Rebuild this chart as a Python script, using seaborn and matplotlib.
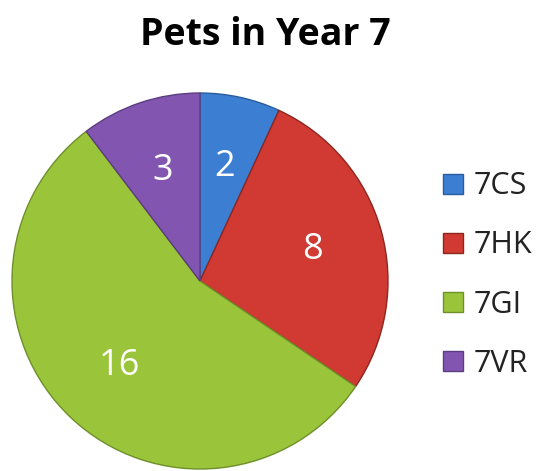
import matplotlib
matplotlib.use("Agg")
import matplotlib.pyplot as plt
import seaborn as sns

categories = ["7CS", "7HK", "7GI", "7VR"]
values = [2, 8, 16, 3]
colors = ["#3C7ED2", "#D03A32", "#9AC53B", "#8256B0"]
edge_colors = ["#2A5C9E", "#8E2620", "#6E8F2A", "#5C3D80"]

sns.set_theme(style="white")
plt.rcParams["font.family"] = ["Open Sans", "DejaVu Sans"]

W, H = 539, 471
fig = plt.figure(figsize=(W / 100, H / 100), dpi=100)
cx, cy, r = 200, 281, 188
ax = fig.add_axes([(cx - r) / W, (H - cy - r) / H, 2 * r / W, 2 * r / H])

total = sum(values)
wedges, texts, autotexts = ax.pie(
    values, colors=colors, startangle=90, counterclock=False,
    autopct=lambda p: f"{round(p * total / 100):d}", pctdistance=0.62,
    wedgeprops=dict(linewidth=1.0),
    textprops=dict(color="white", fontsize=26),
)
for w, ec in zip(wedges, edge_colors):
    w.set_edgecolor(ec)
ax.set_xlim(-1, 1)
ax.set_ylim(-1, 1)
ax.set_aspect("auto")
ax.axis("off")

fig.text(265 / W, 1 - 45 / H, "Pets in Year 7", ha="center", va="baseline",
         fontsize=27, fontweight="bold", color="black")

leg = fig.legend(wedges, categories, loc="center left",
                 bbox_to_anchor=(443 / W, 1 - 275 / H), frameon=False,
                 fontsize=22, handlelength=0.65, handleheight=0.65,
                 handletextpad=0.35, labelspacing=0.95, borderpad=0,
                 borderaxespad=0)
for t in leg.get_texts():
    t.set_color("#222222")

fig.savefig("out.png", dpi=100, facecolor="white")
